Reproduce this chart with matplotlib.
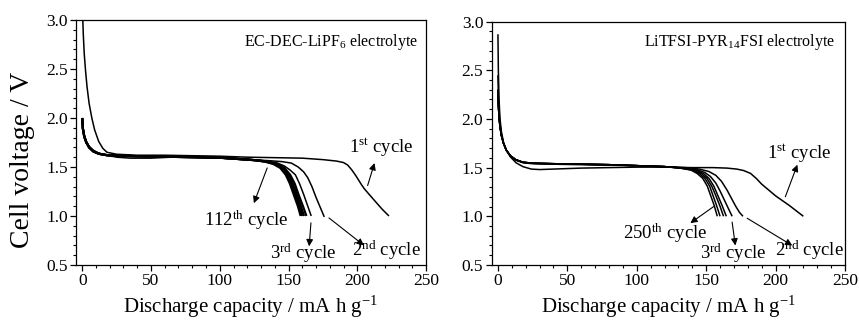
import matplotlib
matplotlib.use("Agg")
import matplotlib.pyplot as plt
from matplotlib.ticker import MultipleLocator

plt.rcParams["font.family"] = ["Liberation Serif", "DejaVu Serif"]
plt.rcParams["mathtext.fontset"] = "custom"
plt.rcParams["mathtext.rm"] = "Liberation Serif"
plt.rcParams["mathtext.it"] = "Liberation Serif:italic"
plt.rcParams["mathtext.bf"] = "Liberation Serif:bold"

# ---- EC-DEC-LiPF6 cell: discharge profiles (capacity mA h/g, voltage V) ----
ec_c1_cap = [0.3, 0.8, 1.5, 2.5, 3.5, 5, 7, 9, 12, 15, 18, 25, 40, 60, 80, 100, 120, 140,
             160, 175, 185, 190, 193, 196, 199, 203, 205, 208, 213, 218, 223]
ec_c1_v = [3.05, 2.85, 2.65, 2.47, 2.32, 2.15, 2.00, 1.88, 1.76, 1.69, 1.65, 1.63, 1.62,
           1.62, 1.615, 1.61, 1.60, 1.595, 1.59, 1.575, 1.56, 1.545, 1.52, 1.47, 1.41,
           1.32, 1.28, 1.23, 1.15, 1.07, 1.0]

ec_c2_cap = [0, 0.5, 1.5, 3, 5, 8, 12, 18, 25, 35, 50, 65, 80, 100, 120, 135, 145, 152,
             157, 161, 164, 167, 170, 173, 176]
ec_c2_v = [2.0, 1.9, 1.82, 1.76, 1.71, 1.67, 1.64, 1.62, 1.60, 1.59, 1.59, 1.60, 1.60,
           1.59, 1.575, 1.565, 1.555, 1.54, 1.50, 1.45, 1.39, 1.30, 1.19, 1.09, 0.99]

ec_c3_cap = [0, 0.5, 1.5, 3, 5, 8, 12, 18, 25, 40, 60, 80, 100, 120, 135, 142, 147, 151,
             155, 158, 161, 164, 166.5]
ec_c3_v = [2.0, 1.9, 1.82, 1.76, 1.71, 1.67, 1.64, 1.625, 1.615, 1.61, 1.61, 1.605, 1.60,
           1.58, 1.56, 1.54, 1.51, 1.47, 1.42, 1.33, 1.22, 1.10, 1.0]

ec_c112_cap = [0, 0.5, 1.5, 3, 5, 8, 12, 18, 25, 40, 60, 80, 100, 115, 125, 133, 139, 144,
               148, 151, 154, 156.8, 158.8]
ec_c112_v = [2.0, 1.89, 1.81, 1.75, 1.70, 1.66, 1.635, 1.62, 1.615, 1.61, 1.605, 1.60,
             1.595, 1.58, 1.57, 1.555, 1.53, 1.49, 1.42, 1.33, 1.21, 1.10, 1.0]

ec_c50_cap = [0, 0.5, 1.5, 3, 5, 8, 12, 18, 25, 40, 60, 80, 100, 115, 125, 133, 140, 145,
              149, 152, 155, 157.8, 160]
ec_c50_v = [2.0, 1.89, 1.81, 1.75, 1.70, 1.66, 1.635, 1.62, 1.615, 1.61, 1.605, 1.60,
            1.595, 1.58, 1.57, 1.555, 1.53, 1.49, 1.42, 1.33, 1.21, 1.10, 1.0]

ec_c20_cap = [0, 0.5, 1.5, 3, 5, 8, 12, 18, 25, 40, 60, 80, 100, 115, 125, 134, 141, 146,
              150, 153.2, 156.2, 159, 161.3]
ec_c20_v = [2.0, 1.89, 1.81, 1.75, 1.70, 1.66, 1.635, 1.62, 1.615, 1.61, 1.605, 1.60,
            1.595, 1.58, 1.57, 1.555, 1.53, 1.49, 1.42, 1.33, 1.21, 1.10, 1.0]

ec_c10_cap = [0, 0.5, 1.5, 3, 5, 8, 12, 18, 25, 40, 60, 80, 100, 115, 125, 135, 142, 147,
              151.2, 154.5, 157.5, 160.5, 163]
ec_c10_v = [2.0, 1.89, 1.81, 1.75, 1.70, 1.66, 1.635, 1.62, 1.615, 1.61, 1.605, 1.60,
            1.595, 1.58, 1.57, 1.555, 1.53, 1.49, 1.42, 1.33, 1.21, 1.10, 1.0]

# ---- LiTFSI-PYR14FSI cell ----
il_c1_cap = [0, 0.3, 0.8, 1.5, 2.5, 4, 6, 9, 13, 18, 24, 30, 40, 60, 80, 100, 120, 140,
             155, 165, 172, 177, 182, 186, 190, 195, 200, 205, 210, 215, 220]
il_c1_v = [2.87, 2.5, 2.2, 2.0, 1.87, 1.76, 1.68, 1.61, 1.55, 1.51, 1.485, 1.48, 1.485,
           1.495, 1.50, 1.505, 1.505, 1.50, 1.50, 1.495, 1.485, 1.47, 1.44, 1.39, 1.33,
           1.27, 1.21, 1.16, 1.11, 1.055, 1.0]

il_c2_cap = [0, 0.3, 0.8, 1.5, 2.5, 4, 6, 9, 13, 18, 25, 40, 60, 80, 100, 120, 135, 145,
             152, 157, 161, 165, 168, 171, 174, 176.5]
il_c2_v = [2.45, 2.25, 2.08, 1.95, 1.84, 1.75, 1.68, 1.62, 1.575, 1.55, 1.54, 1.535, 1.53,
           1.525, 1.52, 1.51, 1.50, 1.485, 1.46, 1.42, 1.36, 1.27, 1.19, 1.11, 1.04, 1.0]

il_c3_cap = [0, 0.3, 0.8, 1.5, 2.5, 4, 6, 9, 13, 18, 25, 40, 60, 80, 100, 120, 135, 143,
             149, 153, 157, 160, 163, 166, 168.7]
il_c3_v = [2.3, 2.15, 2.02, 1.92, 1.83, 1.75, 1.68, 1.62, 1.58, 1.555, 1.545, 1.54, 1.535,
           1.53, 1.52, 1.51, 1.495, 1.48, 1.45, 1.41, 1.34, 1.26, 1.17, 1.08, 1.0]

il_c100_cap = [0, 0.3, 0.8, 1.5, 2.5, 4, 6, 9, 13, 18, 25, 40, 60, 80, 100, 120, 134, 142,
               148, 152, 155.5, 158.5, 161.5, 164.5]
il_c100_v = [2.3, 2.15, 2.02, 1.92, 1.83, 1.75, 1.68, 1.62, 1.58, 1.555, 1.545, 1.54, 1.535,
             1.53, 1.52, 1.51, 1.495, 1.475, 1.44, 1.39, 1.31, 1.21, 1.11, 1.0]

il_c200_cap = [0, 0.3, 0.8, 1.5, 2.5, 4, 6, 9, 13, 18, 25, 40, 60, 80, 100, 120, 133, 141,
               146.5, 150.5, 154, 157, 159.8, 162.5]
il_c200_v = [2.3, 2.15, 2.02, 1.92, 1.83, 1.75, 1.68, 1.62, 1.58, 1.555, 1.545, 1.54, 1.535,
             1.53, 1.52, 1.51, 1.495, 1.475, 1.44, 1.39, 1.31, 1.21, 1.11, 1.0]

il_c250_cap = [0, 0.3, 0.8, 1.5, 2.5, 4, 6, 9, 13, 18, 25, 40, 60, 80, 100, 120, 132, 140,
               145, 149, 152.5, 155, 157.5, 160]
il_c250_v = [2.3, 2.15, 2.02, 1.92, 1.83, 1.75, 1.68, 1.62, 1.58, 1.555, 1.545, 1.54, 1.535,
             1.53, 1.52, 1.51, 1.495, 1.475, 1.44, 1.39, 1.31, 1.21, 1.11, 1.0]

il_c300_cap = [0, 0.3, 0.8, 1.5, 2.5, 4, 6, 9, 13, 18, 25, 40, 60, 80, 100, 120, 131, 139,
               143.5, 147.5, 150.8, 153.3, 155.8, 158]
il_c300_v = [2.3, 2.15, 2.02, 1.92, 1.83, 1.75, 1.68, 1.62, 1.58, 1.555, 1.545, 1.54, 1.535,
             1.53, 1.52, 1.51, 1.495, 1.475, 1.44, 1.39, 1.31, 1.21, 1.11, 1.0]

x_ticks = [0, 50, 100, 150, 200, 250]
y_ticks = [0.5, 1.0, 1.5, 2.0, 2.5, 3.0]

# (capacity, voltage, line width): later cycles overlap into a heavy band
ec_curves = [(ec_c1_cap, ec_c1_v, 1.1), (ec_c2_cap, ec_c2_v, 1.1), (ec_c3_cap, ec_c3_v, 1.1),
             (ec_c10_cap, ec_c10_v, 1.6), (ec_c20_cap, ec_c20_v, 1.6),
             (ec_c50_cap, ec_c50_v, 1.6), (ec_c112_cap, ec_c112_v, 1.6)]
il_curves = [(il_c1_cap, il_c1_v, 1.1), (il_c2_cap, il_c2_v, 1.1), (il_c3_cap, il_c3_v, 1.1),
             (il_c100_cap, il_c100_v, 1.1), (il_c200_cap, il_c200_v, 1.1),
             (il_c250_cap, il_c250_v, 1.1), (il_c300_cap, il_c300_v, 1.1)]

fig = plt.figure(figsize=(8.59, 3.2), dpi=100)
ax1 = fig.add_axes([0.0885, 0.172, 0.4075, 0.7655])
ax2 = fig.add_axes([0.5724, 0.172, 0.4113, 0.7605])


def style(ax):
    ax.set_xlim(-4.5, 250)
    ax.set_ylim(0.5, 3.0)
    ax.set_xticks(x_ticks)
    ax.set_yticks(y_ticks)
    ax.xaxis.set_minor_locator(MultipleLocator(10))
    ax.yaxis.set_minor_locator(MultipleLocator(0.1))
    ax.tick_params(which="major", direction="out", length=4, width=0.9,
                   labelsize=12.5, pad=2, top=False, right=False)
    ax.tick_params(which="minor", direction="out", length=2.5, width=0.8,
                   top=False, right=False)
    for s in ax.spines.values():
        s.set_linewidth(0.9)
    ax.set_xlabel("Discharge capacity / mA h g$^{\\mathrm{-1}}$", fontsize=15, labelpad=3)


def arrow(ax, tail, head):
    ax.annotate("", xy=head, xytext=tail,
                arrowprops=dict(arrowstyle="-|>", color="black", lw=0.8,
                                mutation_scale=10, shrinkA=0, shrinkB=0))


for cap, v, w in ec_curves:
    ax1.plot(cap, v, color="black", lw=w, solid_joinstyle="round", solid_capstyle="butt")
style(ax1)
ax1.set_ylabel("Cell voltage / V", fontsize=20)
ax1.yaxis.set_label_coords(-0.118, 0.43)
ax1.text(244, 2.78, "EC-DEC-LiPF$_{\\mathrm{6}}$ electrolyte", ha="right", va="center",
         fontsize=11.5)
ax1.text(217.5, 1.70, "1$^{\\mathrm{st}}$ cycle", ha="center", va="center", fontsize=13.5)
ax1.text(119, 0.96, "112$^{\\mathrm{th}}$ cycle", ha="center", va="center", fontsize=13.5)
ax1.text(160.5, 0.62, "3$^{\\mathrm{rd}}$ cycle", ha="center", va="center", fontsize=13.5)
ax1.text(221, 0.65, "2$^{\\mathrm{nd}}$ cycle", ha="center", va="center", fontsize=13.5)
arrow(ax1, (207.5, 1.31), (212.5, 1.54))
arrow(ax1, (134.5, 1.49), (124.8, 1.13))
arrow(ax1, (166.3, 0.93), (165.0, 0.69))
arrow(ax1, (179.4, 0.98), (204.8, 0.70))

for cap, v, w in il_curves:
    ax2.plot(cap, v, color="black", lw=w, solid_joinstyle="round", solid_capstyle="butt")
style(ax2)
ax2.text(243.3, 2.79, "LiTFSI-PYR$_{\\mathrm{14}}$FSI electrolyte", ha="right", va="center",
         fontsize=11.5)
ax2.text(217.3, 1.65, "1$^{\\mathrm{st}}$ cycle", ha="center", va="center", fontsize=13.5)
ax2.text(120.5, 0.83, "250$^{\\mathrm{th}}$ cycle", ha="center", va="center", fontsize=13.5)
ax2.text(169.6, 0.62, "3$^{\\mathrm{rd}}$ cycle", ha="center", va="center", fontsize=13.5)
ax2.text(224.6, 0.65, "2$^{\\mathrm{nd}}$ cycle", ha="center", va="center", fontsize=13.5)
arrow(ax2, (207.0, 1.20), (215.7, 1.53))
arrow(ax2, (155.4, 1.10), (138.6, 0.93))
arrow(ax2, (168.7, 0.94), (171.0, 0.70))
arrow(ax2, (179.5, 0.98), (212.0, 0.70))

fig.savefig("out.png", dpi=100)
